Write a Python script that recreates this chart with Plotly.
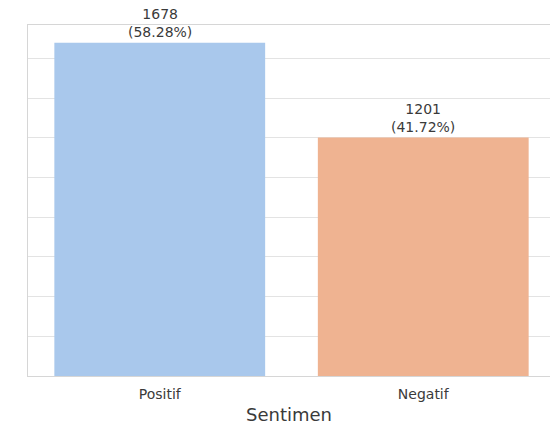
import plotly.graph_objects as go

categories = ["Positif", "Negatif"]
counts = [1678, 1201]
percents = [58.28, 41.72]
colors = ["#a9c8ec", "#efb391"]
y_ticks = [0, 200, 400, 600, 800, 1000, 1200, 1400, 1600]

fig = go.Figure()
fig.add_trace(go.Bar(
    x=[0, 1], y=counts, marker=dict(color=colors, line=dict(width=0)),
    width=0.8, showlegend=False,
))

for i, (c, p) in enumerate(zip(counts, percents)):
    fig.add_annotation(
        x=i, y=c, xref="x", yref="y", text=f"{c}<br>({p:.2f}%)",
        showarrow=False, yanchor="bottom", yshift=1,
        font=dict(family="DejaVu Sans", size=14, color="#3a3a3a"),
    )

fig.update_layout(
    width=550, height=428,
    margin=dict(l=28, r=0, t=25, b=52),
    paper_bgcolor="white", plot_bgcolor="white",
    font=dict(family="DejaVu Sans", color="#3a3a3a"),
    xaxis=dict(
        range=[-0.5, 1.481], tickvals=[0, 1], ticktext=categories,
        showgrid=False, zeroline=False, showline=True, linecolor="#d6d6d6",
        linewidth=1, mirror=True, ticks="", tickfont=dict(size=14),
        ticklabelstandoff=5,
        title=dict(text="Sentimen", font=dict(size=18), standoff=7),
    ),
    yaxis=dict(
        range=[0, 1768], tickvals=y_ticks, showticklabels=False,
        showgrid=True, gridcolor="#e3e3e3", gridwidth=1, zeroline=False,
        showline=True, linecolor="#d6d6d6", linewidth=1, mirror=True, ticks="",
    ),
)

fig.write_html("out.html")
